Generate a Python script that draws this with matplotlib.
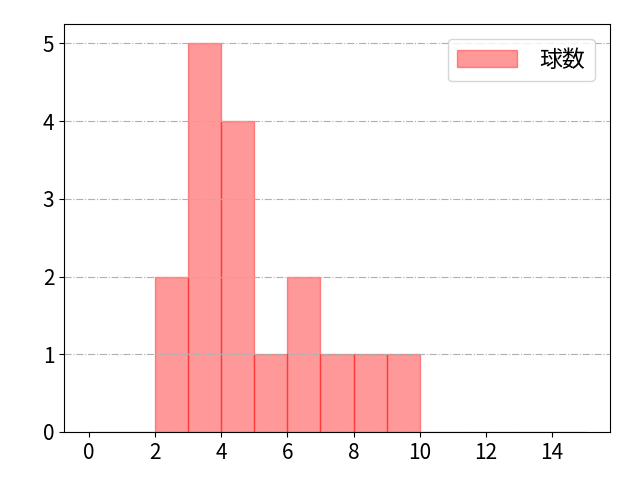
import numpy as np
import matplotlib
matplotlib.use("Agg")
import matplotlib.pyplot as plt

plt.rcParams['font.family'] = ['Noto Sans CJK JP', 'DejaVu Sans']

bin_edges = list(range(0, 16))
pitch_values = [2, 3, 4, 5, 6, 7, 8, 9]
pitch_counts = [2, 5, 4, 1, 2, 1, 1, 1]
series_label = "球数"

fig, ax = plt.subplots(figsize=(6.4, 4.8), dpi=100)
fig.subplots_adjust(left=0.1, right=0.953, top=0.95, bottom=0.1)
ax.hist(pitch_values, bins=bin_edges, weights=pitch_counts,
        color="red", alpha=0.4, edgecolor="red", linewidth=1, label=series_label)
ax.grid(axis="y", linestyle="-.", color="#b0b0b0")
ax.set_xticks(range(0, 16, 2))
ax.tick_params(labelsize=15)
ax.legend(fontsize=16.5, handlelength=2.6, handletextpad=1.0,
          borderpad=0.42, borderaxespad=0.65)
fig.savefig("out.png")
